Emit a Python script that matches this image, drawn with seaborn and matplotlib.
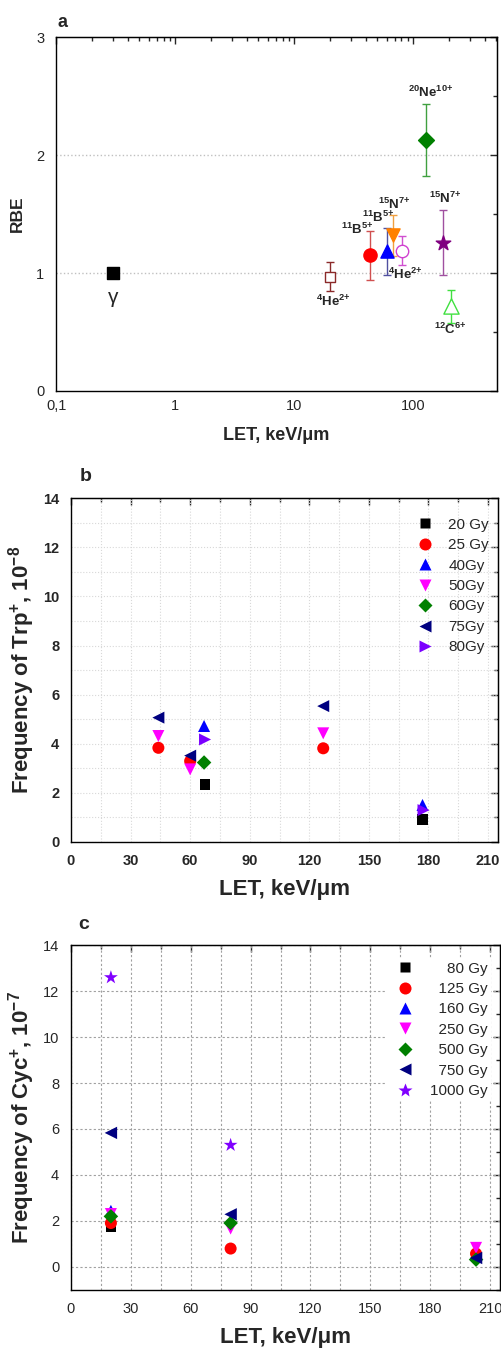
import pandas as pd
import seaborn as sns
import matplotlib.pyplot as plt
from matplotlib.ticker import FixedLocator, MultipleLocator, LogLocator, NullFormatter

# panel a: RBE vs LET
ions = ['γ', '4He', '11B', '11B', '15N', '4He', '20Ne', '15N', '12C']
let_a = [0.3, 20, 43.5, 60, 68, 81, 128, 178, 207]
rbe = [1.0, 0.97, 1.15, 1.185, 1.32, 1.19, 2.125, 1.255, 0.72]
rbe_err = [0, 0.122, 0.207, 0.2, 0.175, 0.12, 0.305, 0.275, 0.14]
ion_labels = ['γ', r'$^{4}$He$^{2{+}}$', r'$^{11}$B$^{5{+}}$', r'$^{11}$B$^{5{+}}$', r'$^{15}$N$^{7{+}}$',
              r'$^{4}$He$^{2{+}}$', r'$^{20}$Ne$^{10{+}}$', r'$^{15}$N$^{7{+}}$', r'$^{12}$C$^{6{+}}$']
label_pos = [(0.3, 0.79), (21.3, 0.76), (33.8, 1.37), (50.8, 1.47), (69.2, 1.58),
             (86, 0.99), (141.6, 2.53), (186, 1.63), (205, 0.52)]

# panel b: Trp+ frequency
let_b = [67.5, 177, 44, 60, 127, 67, 177, 44, 60, 127, 67, 44, 60, 127, 67.5, 177.5]
freq_b = [2.34, 0.91, 3.83, 3.29, 3.81, 4.72, 1.50, 4.31, 2.95, 4.42, 3.23, 5.06, 3.51, 5.53, 4.17, 1.29]
dose_b = ['20 Gy', '20 Gy', '25 Gy', '25 Gy', '25 Gy', '40Gy', '40Gy', '50Gy', '50Gy', '50Gy',
          '60Gy', '75Gy', '75Gy', '75Gy', '80Gy', '80Gy']
doses_b = ['20 Gy', '25 Gy', '40Gy', '50Gy', '60Gy', '75Gy', '80Gy']

# panel c: Cyc+ frequency
let_c = [20, 203, 20, 80, 203, 20, 20, 80, 203, 20, 80, 203, 20, 80, 203, 20, 80]
freq_c = [1.77, 0.45, 1.91, 0.80, 0.58, 2.44, 2.30, 1.67, 0.83, 2.20, 1.91, 0.32,
          5.83, 2.29, 0.39, 12.59, 5.30]
dose_c = ['80 Gy', '80 Gy', '125 Gy', '125 Gy', '125 Gy', '160 Gy', '250 Gy', '250 Gy', '250 Gy',
          '500 Gy', '500 Gy', '500 Gy', '750 Gy', '750 Gy', '750 Gy', '1000 Gy', '1000 Gy']
doses_c = ['80 Gy', '125 Gy', '160 Gy', '250 Gy', '500 Gy', '750 Gy', '1000 Gy']

sns.set_style('white')
plt.rcParams['font.family'] = ['Liberation Sans', 'DejaVu Sans']
plt.rcParams['mathtext.fontset'] = 'custom'
plt.rcParams['mathtext.rm'] = 'Liberation Sans'
plt.rcParams['mathtext.bf'] = 'Liberation Sans:bold'
plt.rcParams['mathtext.default'] = 'bf'

fig = plt.figure(figsize=(5.01, 13.52), dpi=100)


def mirror_ticks(ax):
    for side in ['top', 'right']:
        sec = ax.secondary_xaxis('top') if side == 'top' else ax.secondary_yaxis('right')
        axis = sec.xaxis if side == 'top' else sec.yaxis
        main = ax.xaxis if side == 'top' else ax.yaxis
        axis.set_major_locator(FixedLocator(main.get_majorticklocs()))
        axis.set_minor_locator(FixedLocator(main.get_minorticklocs()))
        sec.tick_params(which='both', direction='in', labeltop=False, labelright=False, width=1)
        sec.tick_params(which='major', length=5)
        sec.tick_params(which='minor', length=3)


# ---- a ----
ax = fig.add_axes([0.112, 0.7108, 0.88, 0.2618])
colors_a = ['black', '#8b2a2a', 'red', 'blue', '#ff8000', '#d040d0', '#008000', '#800080', '#40e040']
err_colors = ['black', '#8b2a2a', '#d05050', '#5050a0', '#f0a040', '#d050d0', '#40a040', '#a050a0', '#40e040']
markers_a = ['s', 's', 'o', '^', 'v', 'o', 'D', '*', '^']
hollow = [False, True, False, False, False, True, False, False, True]
sizes_a = [70, 60, 90, 90, 90, 80, 65, 120, 120]
for i in range(len(let_a)):
    if rbe_err[i] > 0:
        ax.errorbar(let_a[i], rbe[i], yerr=rbe_err[i], fmt='none', ecolor=err_colors[i],
                    elinewidth=1, capsize=3, capthick=1, zorder=2)
    sns.scatterplot(x=[let_a[i]], y=[rbe[i]], marker=markers_a[i], s=sizes_a[i],
                    facecolor='white' if hollow[i] else colors_a[i], edgecolor=colors_a[i],
                    linewidth=1, zorder=3, ax=ax)
for i, (tx, ty) in enumerate(label_pos):
    if i == 0:
        ax.text(tx, ty, ion_labels[i], fontsize=15, ha='center', va='center')
    else:
        ax.text(tx, ty, ion_labels[i], fontsize=9.5, fontweight='bold', ha='center', va='center')
ax.set_xscale('log')
ax.set_xlim(0.1, 508)
ax.set_ylim(0, 3)
ax.set_xticks([0.1, 1, 10, 100])
ax.set_xticklabels(['0,1', '1', '10', '100'])
ax.xaxis.set_minor_locator(LogLocator(subs=range(2, 10)))
ax.xaxis.set_minor_formatter(NullFormatter())
ax.set_yticks([0, 1, 2, 3])
ax.yaxis.set_minor_locator(MultipleLocator(0.5))
for y in [1, 2]:
    ax.axhline(y, color='#c0c0c0', linestyle=':', linewidth=1, zorder=0)
ax.tick_params(axis='x', which='both', direction='in', labelsize=10.5, pad=6)
ax.tick_params(axis='y', which='both', direction='out', labelsize=10.5)
ax.tick_params(which='major', length=5, width=1)
ax.tick_params(which='minor', length=3, width=1)
ax.set_xlabel('LET, keV/μm', fontsize=13, fontweight='bold', labelpad=10)
ax.set_ylabel('RBE', fontsize=12.5, fontweight='bold', labelpad=8)
for s in ax.spines.values():
    s.set_linewidth(1)
    s.set_color('black')
mirror_ticks(ax)
fig.text(0.115, 0.9835, 'a', fontsize=13, fontweight='bold', va='center')


def freq_panel(rect, lets, freqs, doses, order, palette, markers, sizes, ylabel, ylim, bold_ticks):
    ax = fig.add_axes(rect)
    df = pd.DataFrame({'LET': lets, 'freq': freqs, 'dose': doses})
    sns.scatterplot(data=df, x='LET', y='freq', hue='dose', style='dose', size='dose',
                    hue_order=order, style_order=order, size_order=order, palette=palette,
                    markers=markers, sizes=sizes, edgecolor='none', zorder=3, ax=ax)
    ax.set_xlim(0, 215)
    ax.set_ylim(*ylim)
    ax.xaxis.set_major_locator(FixedLocator(range(0, 211, 30)))
    ax.xaxis.set_minor_locator(FixedLocator(range(15, 211, 30)))
    ax.yaxis.set_major_locator(FixedLocator(range(0, 15, 2)))
    ax.yaxis.set_minor_locator(FixedLocator([v for v in range(-1, 15) if v % 2]))
    ax.tick_params(which='both', direction='out', labelsize=10.5, width=1)
    ax.tick_params(which='major', length=5)
    ax.tick_params(which='minor', length=3)
    if bold_ticks:
        for t in ax.get_xticklabels() + ax.get_yticklabels():
            t.set_fontweight('bold')
    ax.set_xlabel('LET, keV/μm', fontsize=16, fontweight='bold', labelpad=8)
    ax.set_ylabel(ylabel, fontsize=16, fontweight='bold', labelpad=4)
    for s in ax.spines.values():
        s.set_linewidth(1)
        s.set_color('black')
    mirror_ticks(ax)
    return ax


pal_b = dict(zip(doses_b, ['black', 'red', 'blue', '#ff00ff', '#008000', '#000080', '#7b00ff']))
mk_b = dict(zip(doses_b, ['s', 'o', '^', 'v', 'D', '<', '>']))
sz_b = dict(zip(doses_b, [60, 75, 75, 75, 55, 75, 75]))
ax = freq_panel([0.1417, 0.3774, 0.8523, 0.254], let_b, freq_b, dose_b, doses_b, pal_b, mk_b, sz_b,
                r'Frequency of Trp$^{+}$, 10$^{-8}$', (0, 14), True)
ax.grid(True, which='both', color='#d8d8d8', linestyle=':', linewidth=0.8)
ax.set_axisbelow(True)
h, l = ax.get_legend_handles_labels()
ax.legend(h, l, loc='upper right', bbox_to_anchor=(1.0, 0.97), frameon=False, fontsize=11,
          labelspacing=0.42, handletextpad=0.5, borderaxespad=0.2)
fig.text(0.16, 0.6473, 'b', fontsize=14, fontweight='bold', va='center')

pal_c = dict(zip(doses_c, ['black', 'red', 'blue', '#ff00ff', '#008000', '#000080', '#8000ff']))
mk_c = dict(zip(doses_c, ['s', 'o', '^', 'v', 'D', '<', '*']))
sz_c = dict(zip(doses_c, [60, 75, 75, 75, 55, 80, 110]))
ax = freq_panel([0.1417, 0.0459, 0.8563, 0.2551], let_c, freq_c, dose_c, doses_c, pal_c, mk_c, sz_c,
                r'Frequency of Cyc$^{+}$, 10$^{-7}$', (-1, 14), False)
ax.grid(True, which='major', axis='y', color='#a0a0a0', linestyle='--', linewidth=0.8, dashes=(2, 2))
ax.grid(True, which='both', axis='x', color='#a0a0a0', linestyle='--', linewidth=0.8, dashes=(2, 2))
ax.set_axisbelow(True)
h, l = ax.get_legend_handles_labels()
pad = {'80 Gy': '    ', '125 Gy': '  ', '160 Gy': '  ', '250 Gy': '  ', '500 Gy': '  ',
       '750 Gy': '  ', '1000 Gy': ''}
ax.legend(h, [pad[x] + x for x in l], loc='upper right', bbox_to_anchor=(0.985, 0.97),
          frameon=True, facecolor='white', edgecolor='none', framealpha=1, fancybox=False,
          fontsize=11, labelspacing=0.42, handletextpad=0.6, borderaxespad=0.2, borderpad=0.2)
fig.text(0.157, 0.316, 'c', fontsize=14, fontweight='bold', va='center')

plt.savefig('out.png', dpi=100)
